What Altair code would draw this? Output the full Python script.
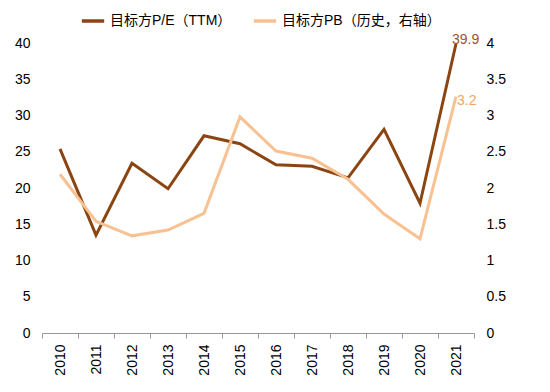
import altair as alt
import pandas as pd

years = [str(y) for y in range(2010, 2022)]
pe = [25.4, 13.5, 23.4, 19.9, 27.2, 26.1, 23.2, 23.0, 21.4, 28.1, 17.9, 39.9]
pb = [2.19, 1.54, 1.34, 1.42, 1.65, 2.98, 2.51, 2.41, 2.12, 1.64, 1.30, 3.26]
s_pe = "目标方P/E（TTM）"
s_pb = "目标方PB（历史，右轴）"
c_pe = "#8B4513"
c_pb = "#F8C192"

df_pe = pd.DataFrame({"year": years, "v": pe, "s": s_pe})
df_pb = pd.DataFrame({"year": years, "v": pb, "s": s_pb})
lab_pe = pd.DataFrame({"year": [years[-1]], "v": [pe[-1]], "t": ["39.9"]})
lab_pb = pd.DataFrame({"year": [years[-1]], "v": [pb[-1]], "t": ["3.2"]})

FONT = "Liberation Sans, Noto Sans CJK SC, sans-serif"

color = alt.Color("s:N", scale=alt.Scale(domain=[s_pe, s_pb], range=[c_pe, c_pb]),
                  legend=alt.Legend(title=None, orient="none", legendX=38, legendY=-35,
                                    direction="horizontal", symbolType="stroke",
                                    symbolStrokeWidth=3.5, symbolSize=500,
                                    labelFontSize=14, labelFont=FONT, labelColor="#000",
                                    columnPadding=14, labelOffset=4))

x = alt.X("year:N", title=None, scale=alt.Scale(paddingInner=0, paddingOuter=0),
          axis=alt.Axis(labelAngle=270, labelFontSize=14, labelFont=FONT, labelColor="#000",
                        domainColor="#999", tickColor="#999", tickBand="extent", tickSize=5,
                        labelPadding=6, labelBaseline="middle", labelAlign="right"))

yl = alt.Y("v:Q", title=None, scale=alt.Scale(domain=[0, 40]),
           axis=alt.Axis(values=list(range(0, 45, 5)), tickCount=9, grid=False, domain=False,
                         ticks=False, labelOverlap=False, labelFontSize=14, labelFont=FONT,
                         labelColor="#000", labelPadding=12))
yr = alt.Y("v:Q", title=None, scale=alt.Scale(domain=[0, 4]),
           axis=alt.Axis(orient="right", values=[0, 0.5, 1, 1.5, 2, 2.5, 3, 3.5, 4], tickCount=9,
                         grid=False, format=".1~f", labelOverlap=False,
                         domain=False, ticks=False, labelFontSize=14, labelFont=FONT,
                         labelColor="#000", labelPadding=12))

left = alt.layer(
    alt.Chart(df_pe).mark_line(strokeWidth=3).encode(x=x, y=yl, color=color),
    alt.Chart(lab_pe).mark_text(align="left", baseline="bottom", dx=-4, dy=3, fontSize=14,
                                font=FONT, color="#A0522D").encode(x=x, y=yl, text="t:N"),
)
right = alt.layer(
    alt.Chart(df_pb).mark_line(strokeWidth=3).encode(x=x, y=yr, color=color),
    alt.Chart(lab_pb).mark_text(align="left", baseline="middle", dx=1, dy=4, fontSize=14,
                                font=FONT, color="#F4A460").encode(x=x, y=yr, text="t:N"),
)

chart = alt.layer(left, right).resolve_scale(y="independent").properties(
    width=432, height=290, autosize="none",
    padding={"left": 34, "top": 35, "right": 68, "bottom": 53}
).configure_view(stroke=None)

chart.save("out.html", embed_options={"renderer": "svg", "actions": False})
